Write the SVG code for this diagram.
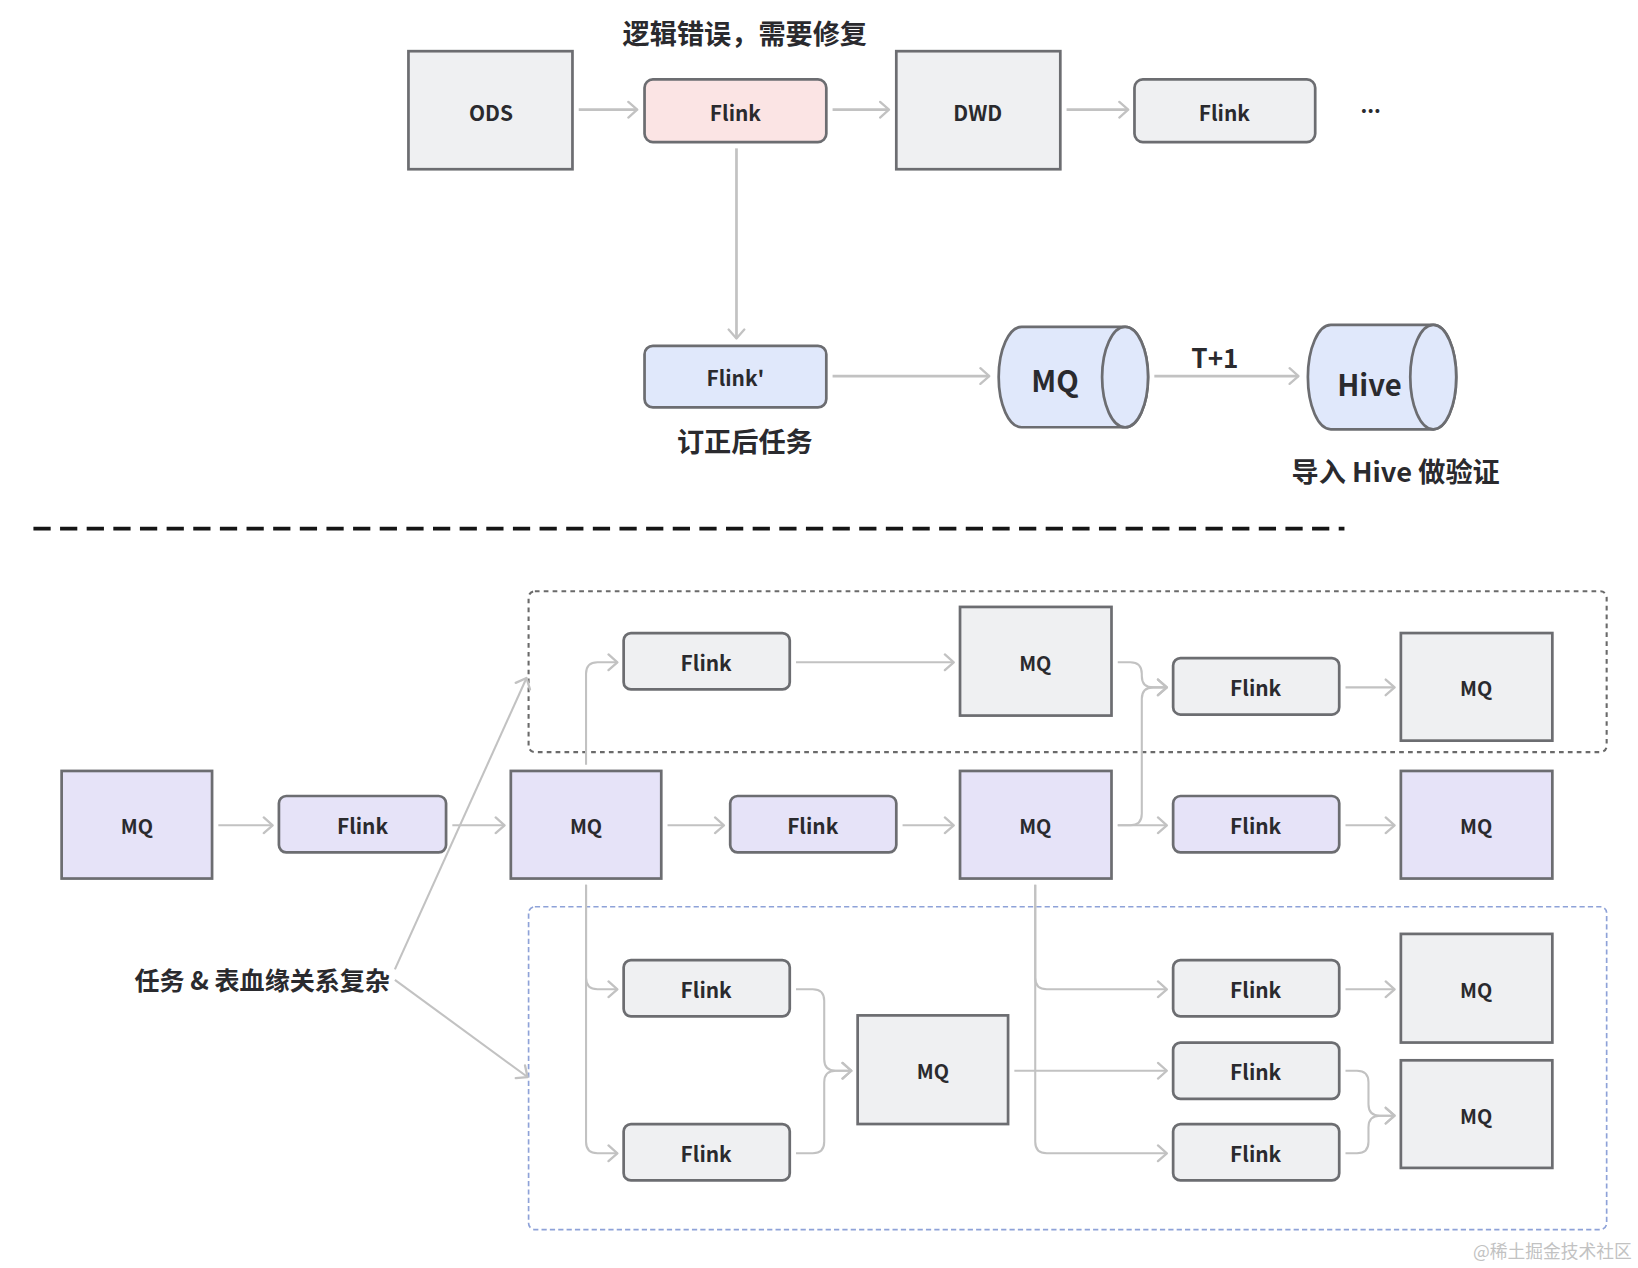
<svg xmlns="http://www.w3.org/2000/svg" width="1638" height="1268" viewBox="0 0 1638 1268">
<style>
.box{fill:#eff0f2;stroke:#6c6d71;stroke-width:2.6}
.pu{fill:#e6e3f8}
.pk{fill:#fbe4e4}
.bl{fill:#e0e8fb}
.t{font-family:"Noto Sans CJK SC","Noto Sans",sans-serif;font-weight:700;fill:#2a2a2e;text-anchor:middle;dominant-baseline:central}
.c{fill:none;stroke:#c2c2c2;stroke-width:2;marker-end:url(#ah)}
.ct{fill:none;stroke:#c2c2c2;stroke-width:2.6;marker-end:url(#ah)}
</style>
<defs>
<marker id="ah" markerUnits="userSpaceOnUse" markerWidth="14" markerHeight="20" refX="10" refY="9" orient="auto">
<path d="M1.5,1.5 L10,9 L1.5,16.5" fill="none" stroke="#c2c2c2" stroke-width="2.2" stroke-linecap="round" stroke-linejoin="round"/>
</marker>
</defs>
<rect width="1638" height="1268" fill="#ffffff"/>
<g transform="scale(1.04464)">
<g id="labels">
<text class="t" x="713" y="31" font-size="26">逻辑错误，需要修复</text>
<text class="t" x="713" y="421" font-size="26">订正后任务</text>
<text class="t" x="1163" y="342" font-size="25">T+1</text>
<text class="t" x="1336" y="450" font-size="26">导入 Hive 做验证</text>
<text class="t" x="251" y="937" font-size="24">任务 &amp; 表血缘关系复杂</text>
<text class="t" x="1312" y="100" font-size="20">...</text>
<text x="1486" y="1197" font-size="17" fill="#c2c2c2" text-anchor="middle" dominant-baseline="central" font-family="'Noto Sans CJK SC',sans-serif">@稀土掘金技术社区</text>
</g>
<line x1="32" y1="506" x2="1287" y2="506" stroke="#151515" stroke-width="3.5" stroke-dasharray="16.5 9"/>
<g id="groups">
<rect id="group-top" x="506" y="566" width="1032" height="154" rx="6" fill="none" stroke="#6a6a6a" stroke-width="2" stroke-dasharray="4.5 4"/>
<rect id="group-bottom" x="506" y="868" width="1032" height="309" rx="6" fill="none" stroke="#8ea2d8" stroke-width="1.6" stroke-dasharray="5 3"/>
</g>
<g id="connectors">
<path class="ct" d="M554,105 H610"/>
<path class="ct" d="M797,105 H851"/>
<path class="ct" d="M1021,105 H1080"/>
<path class="ct" d="M705,142 V324"/>
<path class="ct" d="M797,360 H947"/>
<path class="ct" d="M1105,360 H1243"/>
<path class="c" d="M209,790 H261"/>
<path class="c" d="M433,790 H483"/>
<path class="c" d="M639,790 H693"/>
<path class="c" d="M864,790 H913"/>
<path class="c" d="M1070,790 H1117"/>
<path class="c" d="M1070,634 H1082 Q1093,634 1093,645 V647 Q1093,658 1104,658 H1117"/>
<path class="c" d="M1070,790 H1082 Q1093,790 1093,779 V669 Q1093,658 1104,658 H1117"/>
<path class="c" d="M1288,790 H1335"/>
<path class="c" d="M762,634 H913"/>
<path class="c" d="M1288,658 H1335"/>
<path class="c" d="M561,732 V645 Q561,634 572,634 H591"/>
<path class="c" d="M561,847 V936 Q561,947 572,947 H591"/>
<path class="c" d="M561,847 V1093 Q561,1104 572,1104 H591"/>
<path class="c" d="M762,947 H778 Q789,947 789,958 V1014 Q789,1025 800,1025 H815"/>
<path class="c" d="M762,1104 H778 Q789,1104 789,1093 V1036 Q789,1025 800,1025 H815"/>
<path class="c" d="M971,1025 H1117"/>
<path class="c" d="M991,847 V936 Q991,947 1002,947 H1117"/>
<path class="c" d="M991,847 V1093 Q991,1104 1002,1104 H1117"/>
<path class="c" d="M1288,947 H1335"/>
<path class="c" d="M1288,1025 H1299 Q1310,1025 1310,1036 V1057 Q1310,1068 1321,1068 H1335"/>
<path class="c" d="M1288,1104 H1299 Q1310,1104 1310,1093 V1079 Q1310,1068 1321,1068 H1335"/>
<path class="c" d="M378,928 L504,649"/>
<path class="c" d="M378,938 L505,1031"/>
</g>
<g id="ods"><rect class="box" x="391" y="49" width="157" height="113"/><text class="t" x="470" y="107" font-size="20">ODS</text></g>
<g id="flink-err"><rect class="box pk" x="617" y="76" width="174" height="60" rx="8"/><text class="t" x="704" y="107" font-size="20">Flink</text></g>
<g id="dwd"><rect class="box" x="858" y="49" width="157" height="113"/><text class="t" x="936" y="107" font-size="20">DWD</text></g>
<g id="flink-next"><rect class="box" x="1086" y="76" width="173" height="60" rx="8"/><text class="t" x="1172" y="107" font-size="20">Flink</text></g>
<g id="flink-fixed"><rect class="box bl" x="617" y="331" width="174" height="59" rx="8"/><text class="t" x="704" y="361" font-size="20">Flink'</text></g>
<g id="mq-cyl">
<path class="box bl" d="M978,313 H1077 A22,48 0 0 1 1077,409 H978 A22,48 0 0 1 978,313 Z"/>
<ellipse class="box bl" cx="1077" cy="361" rx="22" ry="48"/>
<text class="t" x="1010" y="363" font-size="28">MQ</text>
</g>
<g id="hive-cyl">
<path class="box bl" d="M1274,311 H1372 A22,50 0 0 1 1372,411 H1274 A22,50 0 0 1 1274,311 Z"/>
<ellipse class="box bl" cx="1372" cy="361" rx="22" ry="50"/>
<text class="t" x="1311" y="367" font-size="28">Hive</text>
</g>
<g id="mq1"><rect class="box pu" x="59" y="738" width="144" height="103"/><text class="t" x="131" y="790" font-size="19">MQ</text></g>
<g id="flink1"><rect class="box pu" x="267" y="762" width="160" height="54" rx="7"/><text class="t" x="347" y="790" font-size="20">Flink</text></g>
<g id="mq2"><rect class="box pu" x="489" y="738" width="144" height="103"/><text class="t" x="561" y="790" font-size="19">MQ</text></g>
<g id="flink2"><rect class="box pu" x="699" y="762" width="159" height="54" rx="7"/><text class="t" x="778" y="790" font-size="20">Flink</text></g>
<g id="mq3"><rect class="box pu" x="919" y="738" width="145" height="103"/><text class="t" x="991" y="790" font-size="19">MQ</text></g>
<g id="flink3"><rect class="box pu" x="1123" y="762" width="159" height="54" rx="7"/><text class="t" x="1202" y="790" font-size="20">Flink</text></g>
<g id="mq4"><rect class="box pu" x="1341" y="738" width="145" height="103"/><text class="t" x="1413" y="790" font-size="19">MQ</text></g>
<g id="t-flink1"><rect class="box" x="597" y="606" width="159" height="54" rx="7"/><text class="t" x="676" y="634" font-size="20">Flink</text></g>
<g id="t-mq1"><rect class="box" x="919" y="581" width="145" height="104"/><text class="t" x="991" y="634" font-size="19">MQ</text></g>
<g id="t-flink2"><rect class="box" x="1123" y="630" width="159" height="54" rx="7"/><text class="t" x="1202" y="658" font-size="20">Flink</text></g>
<g id="t-mq2"><rect class="box" x="1341" y="606" width="145" height="103"/><text class="t" x="1413" y="658" font-size="19">MQ</text></g>
<g id="b-flink1"><rect class="box" x="597" y="919" width="159" height="54" rx="7"/><text class="t" x="676" y="947" font-size="20">Flink</text></g>
<g id="b-flink2"><rect class="box" x="597" y="1076" width="159" height="54" rx="7"/><text class="t" x="676" y="1104" font-size="20">Flink</text></g>
<g id="b-mq1"><rect class="box" x="821" y="972" width="144" height="104"/><text class="t" x="893" y="1025" font-size="19">MQ</text></g>
<g id="b-flink3"><rect class="box" x="1123" y="919" width="159" height="54" rx="7"/><text class="t" x="1202" y="947" font-size="20">Flink</text></g>
<g id="b-flink4"><rect class="box" x="1123" y="998" width="159" height="54" rx="7"/><text class="t" x="1202" y="1025" font-size="20">Flink</text></g>
<g id="b-flink5"><rect class="box" x="1123" y="1076" width="159" height="54" rx="7"/><text class="t" x="1202" y="1104" font-size="20">Flink</text></g>
<g id="b-mq2"><rect class="box" x="1341" y="894" width="145" height="104"/><text class="t" x="1413" y="947" font-size="19">MQ</text></g>
<g id="b-mq3"><rect class="box" x="1341" y="1015" width="145" height="103"/><text class="t" x="1413" y="1068" font-size="19">MQ</text></g>
</g>
</svg>
